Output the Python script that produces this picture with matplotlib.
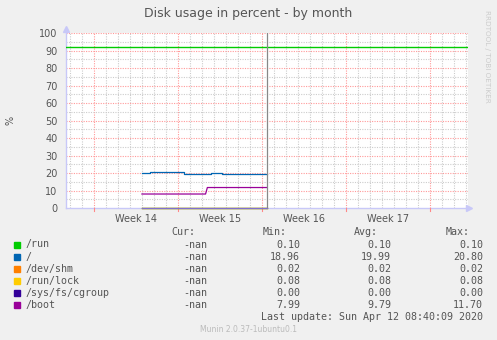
import numpy as np
import matplotlib
matplotlib.use("Agg")
import matplotlib.pyplot as plt

# x axis in days, 0 = Monday of week 14 (Mar 30 2020)
x_range = (-2.33, 31.17)
week_labels = ["Week 14", "Week 15", "Week 16", "Week 17"]
week_starts = [0, 7, 14, 21, 28]

# series (step data: time in days, value in %)
root_t = [4.0, 4.7, 7.5, 9.75, 10.67, 14.42]
root_v = [19.9, 20.8, 19.2, 19.9, 19.2, 19.2]
boot_t = [4.0, 9.3, 9.45, 14.42]
boot_v = [7.99, 7.99, 11.7, 11.7]
flat_t = [4.0, 14.42]
run_v = [0.10, 0.10]
shm_v = [0.02, 0.02]
lock_v = [0.08, 0.08]
cgroup_v = [0.0, 0.0]
warning_level = 92
now_marker = 14.42

names = ["/run", "/", "/dev/shm", "/run/lock", "/sys/fs/cgroup", "/boot"]
colors = ["#00CC00", "#0066B3", "#FF8000", "#FFCC00", "#330099", "#990099"]
cur = ["-nan"] * 6
mins = [0.10, 18.96, 0.02, 0.08, 0.00, 7.99]
avgs = [0.10, 19.99, 0.02, 0.08, 0.00, 9.79]
maxs = [0.10, 20.80, 0.02, 0.08, 0.00, 11.70]

TXT = "#555555"
W, H = 497, 340
fig = plt.figure(figsize=(W / 100, H / 100), dpi=100, facecolor="#F0F0F0")
ax = fig.add_axes([66 / W, 1 - 208 / H, 402 / W, 175 / H], facecolor="white")
ax.set_xlim(*x_range)
ax.set_ylim(0, 100)

# grid
for d in range(-2, 32):
    c = "#FF9999" if d % 7 == 0 else "#CCCCCC"
    ax.axvline(d, color=c, lw=0.8, ls=(0, (1, 1.2)), zorder=1)
for v in range(5, 101, 5):
    c = "#FF9999" if v % 10 == 0 else "#CCCCCC"
    ax.axhline(v, color=c, lw=0.8, ls=(0, (1, 1.2)), zorder=1)

for s in ax.spines.values():
    s.set_visible(False)

# axes lines with arrows
ax.plot([x_range[0], x_range[1] + 0.1], [0, 0], color="#C8C8F8", lw=1.0,
        zorder=2, clip_on=False)
ax.plot([x_range[0], x_range[0]], [0, 102], color="#C8C8F8", lw=1.0,
        zorder=2, clip_on=False)
ax.plot([x_range[1] + 0.1], [0], marker=">", ms=4, color="#C8C8F8", clip_on=False, zorder=2)
ax.plot([x_range[0]], [102.5], marker="^", ms=4, color="#C8C8F8", clip_on=False, zorder=2)
for w in week_starts:
    ax.plot([w, w], [0, -1.5], color="#FF8888", lw=0.8, clip_on=False, zorder=2)

# series
ax.axhline(warning_level, color="#00CC00", lw=1.0, zorder=3)
ax.plot(flat_t, run_v, color=colors[0], lw=0.9, zorder=3, clip_on=False)
ax.step(root_t, root_v, where="post", color=colors[1], lw=0.9, zorder=3)
ax.plot(flat_t, shm_v, color=colors[2], lw=0.9, zorder=3, clip_on=False)
ax.plot(flat_t, lock_v, color=colors[3], lw=0.9, zorder=3, clip_on=False)
ax.plot(flat_t, cgroup_v, color="#8070D0", lw=0.9, zorder=3, clip_on=False)
ax.plot(boot_t, boot_v, color=colors[5], lw=0.9, zorder=3)
ax.axvline(now_marker, color="#888888", lw=0.9, zorder=4)

ax.set_yticks(range(0, 101, 10))
ax.set_xticks([w + 3.5 for w in week_starts[:4]])
ax.set_xticklabels(week_labels)
ax.tick_params(axis="both", length=0, labelsize=7, labelcolor=TXT)
ax.tick_params(axis="y", pad=6)
ax.tick_params(axis="x", pad=4)

fig.text(10 / W, 1 - 120 / H, "%", rotation=90, ha="center", va="center",
         fontsize=7, color=TXT)
fig.text(248 / W, 1 - 13 / H, "Disk usage in percent - by month", ha="center",
         va="center", fontsize=9, color=TXT)
fig.text(487 / W, 1 - 56 / H, "RRDTOOL / TOBI OETIKER", rotation=270, ha="center",
         va="center", fontsize=5.2, color="#CCCCCC")

# legend table
mono = dict(family="DejaVu Sans Mono", fontsize=7.2, color=TXT, va="center")
col_right = [207, 300, 391, 483]
head_right = [195, 287, 378, 470]
for hdr, xr in zip(["Cur:", "Min:", "Avg:", "Max:"], head_right):
    fig.text(xr / W, 1 - 232 / H, hdr, ha="right", **mono)
for i, name in enumerate(names):
    y = 244.5 + i * 12.1
    fig.patches.append(plt.Rectangle((14 / W, 1 - (y + 3) / H), 6 / W, 6 / H,
                                     transform=fig.transFigure, color=colors[i]))
    fig.text(26 / W, 1 - y / H, name, ha="left", **mono)
    vals = [cur[i], f"{mins[i]:.2f}", f"{avgs[i]:.2f}", f"{maxs[i]:.2f}"]
    for v, xr in zip(vals, col_right):
        fig.text(xr / W, 1 - y / H, v, ha="right", **mono)
fig.text(483 / W, 1 - 317 / H, "Last update: Sun Apr 12 08:40:09 2020", ha="right", **mono)
fig.text(248 / W, 1 - 329.5 / H, "Munin 2.0.37-1ubuntu0.1", ha="center", va="center",
         fontsize=5.5, color="#BBBBBB")

fig.savefig("out.png", dpi=100, facecolor=fig.get_facecolor())
